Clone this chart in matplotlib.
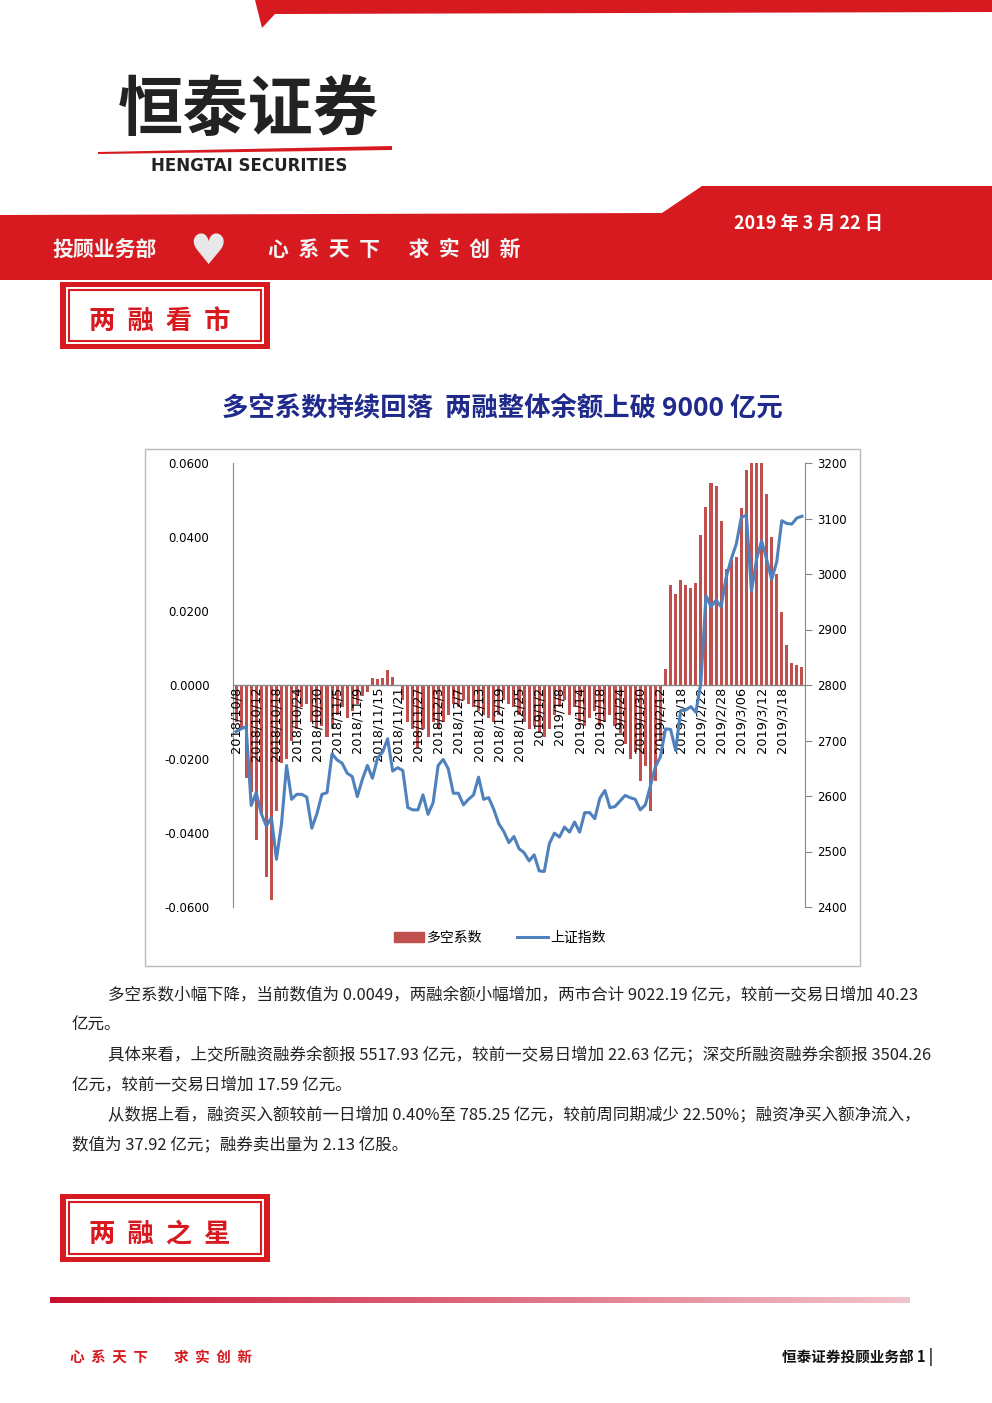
import matplotlib
matplotlib.use("Agg")
import matplotlib.pyplot as plt
import numpy as np
from matplotlib.patches import Polygon, Rectangle
from matplotlib.lines import Line2D
from matplotlib.patches import Patch
from matplotlib.colors import LinearSegmentedColormap

plt.rcParams['font.family'] = ['Noto Sans CJK SC', 'DejaVu Sans']

tick_labels = ["2018/10/8","2018/10/12","2018/10/18","2018/10/24","2018/10/30","2018/11/5","2018/11/9",
               "2018/11/15","2018/11/21","2018/11/27","2018/12/3","2018/12/7","2018/12/13","2018/12/19",
               "2018/12/25","2019/1/2","2019/1/8","2019/1/14","2019/1/18","2019/1/24","2019/1/30",
               "2019/2/12","2019/2/18","2019/2/22","2019/2/28","2019/3/06","2019/3/12","2019/3/18"]

ratio = [-0.010,-0.012,-0.025,-0.029,-0.042,-0.035,-0.052,-0.058,-0.034,-0.021,-0.020,-0.015,-0.012,-0.006,-0.005,-0.010,-0.012,-0.011,
         -0.014,-0.012,-0.008,-0.006,-0.009,-0.007,-0.005,-0.003,-0.002,0.002,0.0015,0.0018,0.004,0.0022,-0.0003,-0.004,-0.010,-0.012,-0.017,-0.012,-0.014,-0.010,
         -0.012,-0.010,-0.008,-0.005,-0.006,-0.004,-0.005,-0.006,-0.007,-0.008,-0.009,-0.010,-0.008,-0.004,-0.005,-0.006,-0.008,-0.010,-0.012,-0.011,
         -0.013,-0.014,-0.012,-0.008,-0.006,-0.004,-0.008,-0.006,-0.010,-0.011,-0.009,-0.007,-0.011,-0.010,-0.008,-0.011,-0.013,-0.016,-0.020,-0.018,-0.026,-0.022,
         -0.034,-0.026,-0.015,
         0.0043,0.027,0.0245,0.0283,0.027,0.0263,0.0277,0.0405,0.048,0.0546,0.0538,0.0442,
         0.0314,0.0342,0.0346,0.0478,0.058,0.060,0.060,0.060,0.0515,0.040,0.030,0.0196,0.0107,0.0060,0.0055,0.0049]

index = [2716,2721,2725,2583,2606,2568,2546,2561,2486,2550,2655,2594,2603,2603,2598,2542,2568,2603,
         2606,2676,2665,2659,2641,2635,2599,2630,2655,2632,2668,2679,2703,2645,2651,2646,2579,2575,2575,2602,2567,2588,
         2655,2666,2649,2605,2605,2584,2594,2602,2634,2594,2597,2576,2550,2536,2516,2527,2505,2498,2483,2494,
         2465,2464,2514,2533,2526,2544,2535,2553,2535,2570,2570,2559,2596,2610,2579,2581,2591,2601,2597,2594,2575,2584,
         2618,2653,2671,
         2721,2720,2682,2754,2755,2761,2751,2804,2961,2941,2953,2941,
         2994,3027,3054,3102,3106,2969,3026,3060,3027,2990,3022,3096,3091,3090,3101,3104]

W, H = 992, 1403
fig = plt.figure(figsize=(W/100, H/100), dpi=100)

def P(x, y):
    return (x/W, 1-y/H)

def poly(pts, color, z=1):
    fig.patches.append(Polygon([P(*p) for p in pts], closed=True, transform=fig.transFigure,
                               facecolor=color, edgecolor='none', zorder=z))

red = '#d71920'
poly([(255,0),(992,0),(992,12),(275,14),(262,28)], red)
poly([(0,215),(662,213),(702,186),(992,186),(992,280),(0,280)], red)

fig.text(*P(118,110), "恒泰证券", fontsize=47, fontweight='bold', color='#222222', va='center', ha='left')
poly([(98,152),(392,146),(392,150),(98,154)], red)
fig.text(*P(151,166), "HENGTAI SECURITIES", fontsize=12, fontweight='bold', color='#222222', va='center',
         family=['DejaVu Sans'])
fig.text(*P(734,223), "2019 年 3 月 22 日", fontsize=13, fontweight='bold', color='white', va='center')
fig.text(*P(52,249), "投顾业务部", fontsize=15, fontweight='bold', color='#f4f4f4', va='center')
fig.text(*P(208,252), "♥", fontsize=30, color='#e8e8e8', va='center', ha='center', family=['DejaVu Sans'])
fig.text(*P(268,249), "心  系  天  下      求  实  创  新", fontsize=15, fontweight='bold', color='#f4f4f4', va='center')

def box(y0, y1, label):
    fig.patches.append(Rectangle(P(60, y1), 210/W, (y1-y0)/H, transform=fig.transFigure, facecolor=red, edgecolor='none'))
    fig.patches.append(Rectangle(P(66, y1-5), 198/W, (y1-y0-10)/H, transform=fig.transFigure, facecolor='white', edgecolor='none'))
    fig.patches.append(Rectangle(P(69, y1-8), 192/W, (y1-y0-16)/H, transform=fig.transFigure, facecolor='none', edgecolor=red, lw=1.5))
    fig.text(*P(160, (y0+y1)/2 + 6), label, fontsize=19, fontweight='bold', color=red, ha='center', va='center')

box(282, 349, "两  融  看  市")
box(1194, 1262, "两  融  之  星")

fig.text(*P(502,408), "多空系数持续回落  两融整体余额上破 9000 亿元", fontsize=19, fontweight='bold',
         color='#1f2a8a', ha='center', va='center')

fig.patches.append(Rectangle(P(145,966), 715/W, 517/H, transform=fig.transFigure, facecolor='white',
                             edgecolor='#bbbbbb', lw=1, zorder=-5))

ax = fig.add_axes([233/W, 1-907/H, 572/W, 444/H])
ax.set_zorder(5)
ax.patch.set_alpha(0)
n = len(ratio)
x = np.arange(n)
ax.bar(x, ratio, width=0.6, color='#c0504d', zorder=2)
ax.set_xlim(-0.6, n-0.4)
ax.set_ylim(-0.06, 0.06)
yt = np.arange(-0.06, 0.061, 0.02)
ax.set_yticks(yt)
ax.set_yticklabels([f"{v:.4f}" for v in yt], fontsize=8.5, family=['DejaVu Sans'])
ax.tick_params(axis='y', length=0, pad=17)
ax.set_xticks([])
for s in ['top', 'right', 'bottom']:
    ax.spines[s].set_visible(False)
ax.spines['left'].set_color('#888888')
ax.axhline(0, color='#888888', lw=1, zorder=3)
for i, lab in enumerate(tick_labels):
    ax.text(i*4, -0.0005, lab, rotation=90, ha='center', va='top', fontsize=9.3, family=['DejaVu Sans'], zorder=4)

ax2 = ax.twinx()
ax2.plot(x, index, color='#4f81bd', lw=2.2, zorder=5)
ax2.set_ylim(2400, 3200)
ax2.set_yticks(range(2400, 3201, 100))
ax2.tick_params(axis='y', direction='out', length=5, color='#888888', labelsize=8.5, pad=4)
for t in ax2.get_yticklabels():
    t.set_family(['DejaVu Sans'])
for s in ['top', 'left', 'bottom']:
    ax2.spines[s].set_visible(False)
ax2.spines['right'].set_color('#888888')

handles = [Patch(color='#c0504d'), Line2D([], [], color='#4f81bd', lw=2.2)]
fig.legend(handles, ['多空系数', '上证指数'], loc='center', bbox_to_anchor=P(500, 938), ncol=2,
           frameon=False, fontsize=10, handlelength=2.2, handletextpad=0.2, columnspacing=2.5)

lines = [
    (108, 995, "多空系数小幅下降，当前数值为 0.0049，两融余额小幅增加，两市合计 9022.19 亿元，较前一交易日增加 40.23"),
    (72, 1025, "亿元。"),
    (108, 1055, "具体来看，上交所融资融券余额报 5517.93 亿元，较前一交易日增加 22.63 亿元；深交所融资融券余额报 3504.26"),
    (72, 1085, "亿元，较前一交易日增加 17.59 亿元。"),
    (108, 1115, "从数据上看，融资买入额较前一日增加 0.40%至 785.25 亿元，较前周同期减少 22.50%；融资净买入额净流入，"),
    (72, 1145, "数值为 37.92 亿元；融券卖出量为 2.13 亿股。"),
]
for xx, yy, s in lines:
    fig.text(*P(xx, yy), s, fontsize=11.9, color='#222222', va='center', ha='left')

grad = np.linspace(0, 1, 256)[None, :]
gax = fig.add_axes([50/W, 1-1303/H, 860/W, 6/H])
cmap = LinearSegmentedColormap.from_list('g', ['#c8102e', '#f2c4cc'])
gax.imshow(grad, aspect='auto', cmap=cmap)
gax.axis('off')

fig.text(*P(70, 1357), "心  系  天  下        求  实  创  新", fontsize=10.5, fontweight='bold', color=red, va='center')
fig.text(*P(933, 1357), "恒泰证券投顾业务部 1 |", fontsize=10.5, fontweight='bold', color='#111111', va='center', ha='right')

fig.savefig("out.png", dpi=100)
